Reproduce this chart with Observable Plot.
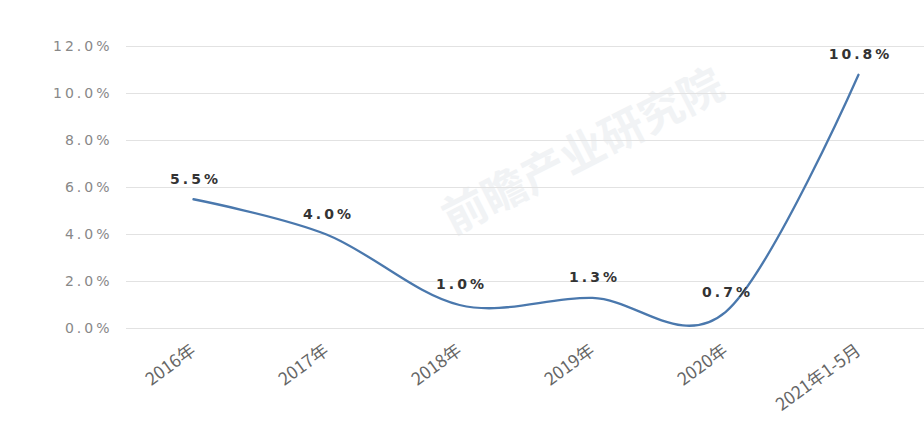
<!DOCTYPE html>
<html>
<head>
<meta charset="utf-8">
<script src="https://cdn.jsdelivr.net/npm/d3@7"></script>
<script src="https://cdn.jsdelivr.net/npm/@observablehq/plot@0.6"></script>
<style>
  html, body { margin: 0; padding: 0; background: #fff; }
  #chart svg { display: block; }
</style>
</head>
<body>
<div id="chart"></div>
<script>
const categories = ["2016年", "2017年", "2018年", "2019年", "2020年", "2021年1-5月"];
const values = [5.5, 4.0, 1.0, 1.3, 0.7, 10.8];
const yTicks = [0, 2, 4, 6, 8, 10, 12];

const data = categories.map((c, i) => ({ cat: c, v: values[i] }));
const fmt = d => d.toFixed(1) + "%";
const cjk = "'Noto Sans CJK SC', 'Noto Sans', sans-serif";
const num = "'DejaVu Sans', 'Noto Sans', sans-serif";

const chart = Plot.plot({
  width: 924,
  height: 421,
  marginLeft: 126,
  marginRight: 0,
  marginTop: 46,
  marginBottom: 93,
  style: { fontFamily: cjk, background: "#fff" },
  x: { type: "point", domain: categories, padding: 0.5, label: null },
  y: { domain: [0, 12], label: null },
  marks: [
    Plot.text(["前瞻产业研究院"], {
      frameAnchor: "middle", dx: 58, dy: -35, rotate: -27,
      fontSize: 44, fill: "#f1f3f5", fontWeight: "bold"
    }),
    Plot.gridY(yTicks, { stroke: "#e2e2e2", strokeOpacity: 1, strokeWidth: 1.2 }),
    Plot.axisY({
      ticks: yTicks, tickSize: 0, tickPadding: 14, tickFormat: fmt,
      fontSize: 14, fill: "#888", fontFamily: num, label: null
    }),
    Plot.axisX({
      tickSize: 0, tickPadding: 20, tickRotate: -36,
      fontSize: 17.5, fill: "#666", label: null
    }),
    Plot.line(data, {
      x: "cat", y: "v", curve: "cardinal",
      stroke: "#4a78ad", strokeWidth: 2.3
    }),
    Plot.text(data, {
      x: "cat", y: "v", text: d => fmt(d.v), dy: -20, dx: 2,
      fontSize: 14, fill: "#333", fontWeight: "bold", fontFamily: num
    })
  ]
});
// widen the percentage labels like the reference's spaced rendering
d3.select(chart).selectAll("text")
  .filter(function () { return /%$/.test(this.textContent); })
  .attr("letter-spacing", "3px");
document.getElementById("chart").append(chart);
</script>
</body>
</html>
